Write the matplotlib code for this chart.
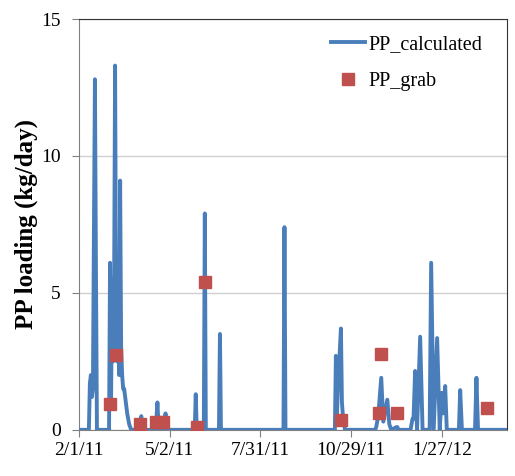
import numpy as np
import matplotlib.pyplot as plt

# start of record
start = np.datetime64('2011-02-01')

# calculated loading: days after 2/1/11 and kg/day
calc_days = [0, 10, 11, 12, 13, 14, 16, 17, 18,
             30, 31, 32, 33, 34, 35, 36, 37, 38, 39, 40, 41, 42, 43, 44, 45, 46, 48, 50, 52,
             60, 62, 63, 76, 77, 78, 79, 80, 85, 86, 87,
             115, 116, 117, 124, 125, 126, 139, 140, 141,
             203, 204, 205, 254, 255, 256, 257, 260, 261, 262, 264,
             294, 295, 297, 300, 302, 306, 308, 310, 315, 316, 317,
             329, 331, 332, 333.6, 335.5, 338.6, 341,
             348, 349.5, 352, 355.4, 358, 360, 361.5, 363.4, 365,
             377, 378.3, 380, 393, 394.4, 396, 425]
calc_vals = [0, 0, 1.7, 2.0, 1.2, 1.5, 12.8, 6.0, 0,
             0, 6.1, 1.0, 5.5, 2.5, 5.0, 13.3, 4.0, 2.5, 5.0, 2.0, 9.1, 3.0, 2.0, 1.5, 1.5, 1.2, 0.6, 0.2, 0,
             0, 0.5, 0, 0, 0.4, 1.0, 0.2, 0, 0, 0.6, 0,
             0, 1.3, 0, 0, 7.9, 0, 0, 3.5, 0,
             0, 7.4, 0, 0, 2.7, 0.5, 1.5, 3.7, 1.0, 0.5, 0,
             0, 0.1, 0.5, 1.9, 0.3, 1.1, 0.2, 0, 0.1, 0.1, 0,
             0, 0.4, 0.4, 2.15, 0, 3.4, 0,
             0, 6.1, 0, 3.35, 0, 1.35, 0.6, 1.6, 0,
             0, 1.45, 0, 0, 1.9, 0, 0]

# grab samples
grab_days = [31, 37, 61, 77, 84, 117, 125, 260, 298, 300, 316, 405]
grab_vals = [0.95, 2.73, 0.2, 0.3, 0.28, 0.1, 5.4, 0.35, 0.6, 2.77, 0.6, 0.78]

tick_labels = ['2/1/11', '5/2/11', '7/31/11', '10/29/11', '1/27/12']

calc_dates = start + np.round(np.array(calc_days) * 24).astype('timedelta64[h]')
grab_dates = start + np.array(grab_days).astype('timedelta64[D]')
tick_dates = start + np.arange(0, 361, 90).astype('timedelta64[D]')

plt.rcParams['font.family'] = 'Liberation Serif'

fig = plt.figure(figsize=(5.15, 4.76), dpi=100)
ax = fig.add_axes([0.153, 0.097, 0.832, 0.863])

ax.plot(calc_dates, calc_vals, color='#4a7ebb', lw=2.8, label='PP_calculated', zorder=3)
ax.plot(grab_dates, grab_vals, 's', color='#c0504d', ms=9, label='PP_grab', zorder=4)

ax.set_ylim(0, 15)
ax.set_yticks([0, 5, 10, 15])
ax.set_xlim(start, start + np.timedelta64(425, 'D'))
ax.set_xticks(tick_dates)
ax.set_xticklabels(tick_labels)

ax.yaxis.grid(True, color='#d0d0d0', lw=1)
ax.set_axisbelow(True)
ax.tick_params(labelsize=14, colors='#808080', labelcolor='black', direction='out', length=5)
ax.tick_params(axis='y', pad=8)

for s in ['left', 'bottom']:
    ax.spines[s].set_color('#808080')
for s in ['top', 'right']:
    ax.spines[s].set_color('#333333')

ax.set_ylabel('PP loading (kg/day)', fontsize=18, fontweight='bold', labelpad=2)

ax.legend(loc='upper right', frameon=False, fontsize=14.5, handlelength=1.7,
          labelspacing=0.9, handletextpad=0.2, bbox_to_anchor=(0.985, 1.005))

fig.savefig('out.png', dpi=100)
